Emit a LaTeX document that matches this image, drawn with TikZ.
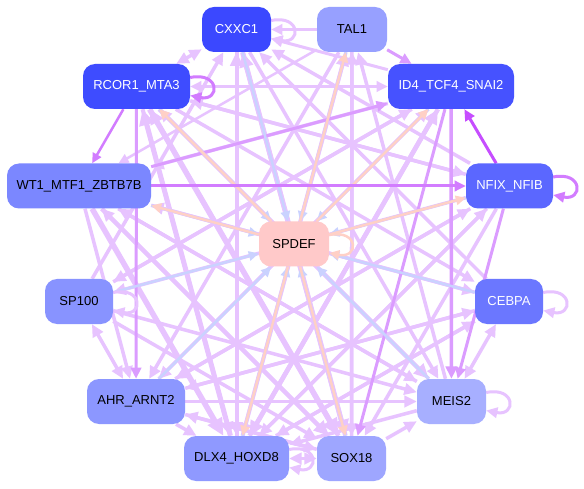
\documentclass[tikz,border=0pt]{standalone}
\usepackage{fontspec}
\setmainfont{Liberation Sans}
\usetikzlibrary{arrows.meta}
\pgfdeclarelayer{bg}
\pgfdeclarelayer{edges}
\pgfsetlayers{bg,edges,main}
\definecolor{lp}{HTML}{E7C3FF}
\definecolor{mp}{HTML}{DB9CFF}
\definecolor{dp}{HTML}{D27CFF}
\definecolor{vp}{HTML}{C64DFF}
\definecolor{bl}{HTML}{CAD2FF}
\definecolor{pc}{HTML}{FFD0C6}
\definecolor{nA}{HTML}{3B48FF}
\definecolor{nB}{HTML}{97A0FF}
\definecolor{nC}{HTML}{4652FF}
\definecolor{nD}{HTML}{3E4CFF}
\definecolor{nE}{HTML}{7B87FF}
\definecolor{nF}{HTML}{5B67FF}
\definecolor{nS}{HTML}{FFC9C9}
\definecolor{nG}{HTML}{8893FF}
\definecolor{nH}{HTML}{6B77FF}
\definecolor{nI}{HTML}{8C97FF}
\definecolor{nJ}{HTML}{A7AFFF}
\definecolor{nK}{HTML}{8F99FF}
\definecolor{nL}{HTML}{9EA6FF}
\tikzset{
  gnode/.style={rounded corners=12pt, minimum height=45pt, inner sep=0pt,
    font=\fontsize{13}{15}\selectfont, text=black},
  wtext/.style={text=white},
  e/.style={-{Triangle[length=4pt 2.4,width=4pt 2.1]}},
  ee/.style={{Triangle[length=4pt 2.4,width=4pt 2.1]}-{Triangle[length=4pt 2.4,width=4pt 2.1]}},
}
\newcommand{\selfloop}[3]{%
  \draw[e, line width=#2pt, draw=#3] ([yshift=9pt]#1.east) .. controls +(30,-6) and +(30,6) .. ([yshift=-9pt]#1.east);}
\begin{document}
\begin{tikzpicture}[x=1pt,y=-1pt]
\begin{pgfonlayer}{bg}
\fill[white] (0,0) rectangle (584,489);
\end{pgfonlayer}
\useasboundingbox (0,0) rectangle (584,489);
\node[gnode, fill=nA, wtext, minimum width=69pt] (cx) at (236.5,29.5) {CXXC1};
\node[gnode, fill=nB, minimum width=70pt] (ta) at (352,29.5) {TAL1};
\node[gnode, fill=nC, wtext, minimum width=126pt] (id) at (451,86.5) {ID4\_TCF4\_SNAI2};
\node[gnode, fill=nD, wtext, minimum width=107pt] (rc) at (136.5,86.5) {RCOR1\_MTA3};
\node[gnode, fill=nE, minimum width=144pt] (wt) at (79,186) {WT1\_MTF1\_ZBTB7B};
\node[gnode, fill=nF, wtext, minimum width=87pt] (nf) at (509.5,186) {NFIX\_NFIB};
\node[gnode, fill=nS, minimum width=70pt] (pd) at (294,244) {SPDEF};
\node[gnode, fill=nG, minimum width=68pt] (sp) at (79,301.5) {SP100};
\node[gnode, fill=nH, wtext, minimum width=68pt] (ce) at (509,301.5) {CEBPA};
\node[gnode, fill=nI, minimum width=98pt] (ah) at (136,401.5) {AHR\_ARNT2};
\node[gnode, fill=nJ, minimum width=69pt] (me) at (451.5,401.5) {MEIS2};
\node[gnode, fill=nK, minimum width=105pt] (dl) at (236.5,458.5) {DLX4\_HOXD8};
\node[gnode, fill=nL, minimum width=69pt] (so) at (351.5,458.5) {SOX18};
\begin{pgfonlayer}{edges}
\foreach \a/\b/\w/\c/\s in {
  ta/cx/3/lp/e, id/cx/3/lp/e, rc/cx/3.5/lp/ee, rc/id/3/lp/ee,
  sp/ah/3.5/lp/ee, ce/me/3.5/lp/ee, so/me/3.5/lp/e, ah/dl/3.5/lp/e, dl/so/3.5/lp/ee,
  wt/ah/3.5/lp/e, cx/dl/4/lp/e, cx/so/5/lp/e, cx/me/3.5/lp/e,
  ta/dl/3.5/lp/e, ta/ah/3.5/lp/e, ta/so/3.5/lp/e, ta/wt/2.5/lp/e,
  id/dl/4.5/lp/e, id/ah/3.5/lp/e, id/sp/3.5/lp/e, id/wt/3.5/lp/e,
  rc/so/5.5/lp/e, rc/me/4.5/lp/e, rc/dl/4/lp/e, rc/ce/3.5/lp/e, rc/nf/3.5/lp/e,
  wt/dl/5.5/lp/e, wt/so/4.5/lp/e, wt/me/3.5/lp/e, wt/ce/3.5/lp/e,
  nf/dl/3.5/lp/e, nf/so/3.5/lp/e, nf/ah/3.5/lp/e, nf/sp/3.5/lp/e, nf/cx/3.5/lp/e, nf/rc/3.5/lp/e,
  sp/so/3.5/lp/e, sp/me/3.5/lp/e, sp/id/3.5/lp/e, sp/cx/3.5/lp/e,
  ce/dl/3.5/lp/e, ce/ah/3.5/lp/e, ce/wt/3.5/lp/e, ce/cx/3.5/lp/e,
  ah/me/3.5/lp/e, ah/so/3.5/lp/e, ah/id/3.5/lp/e, ah/nf/3.5/lp/e, ah/ce/3.5/lp/e,
  me/dl/3.5/lp/e, me/wt/3.5/lp/e, me/rc/3.5/lp/e, me/ta/3.5/lp/e,
  dl/ta/4/lp/e, dl/cx/4/lp/e, dl/id/4.5/lp/e, dl/nf/3.5/lp/e, dl/ce/3.5/lp/e, dl/rc/5/lp/e,
  so/ta/3.5/lp/e, so/cx/4.5/lp/e, so/rc/4.5/lp/e, so/wt/3.5/lp/e, so/ah/3.5/lp/e}{
  \draw[\s, line width=\w pt, draw=\c] (\a) -- (\b);
}
\foreach \a/\b/\w/\c in {
  ta/id/3/mp, rc/ah/3/mp, id/so/3/mp, id/me/3.5/mp, wt/id/3/mp, nf/me/3/mp}{
  \draw[e, line width=\w pt, draw=\c] (\a) -- (\b);
}
\foreach \a in {cx,ta,id,rc,wt,nf,sp,ce,ah,me,dl,so}{
  \draw[e, line width=2.5pt, draw=bl] (\a) -- (pd);
}
\foreach \b in {ta,rc,id,nf,dl,so,wt}{
  \draw[e, line width=2.5pt, draw=pc] (pd) -- (\b);
}
\draw[e, line width=2.5pt, draw=dp] (rc) -- (wt);
\draw[e, line width=3pt, draw=vp] (nf) -- (id);
\draw[e, line width=3pt, draw=dp] (wt) -- (nf);
% self loops
\selfloop{cx}{3}{lp}
\selfloop{rc}{3}{dp}
\selfloop{nf}{3}{dp}
\selfloop{pd}{2.5}{pc}
\selfloop{sp}{3}{lp}
\selfloop{ce}{3}{lp}
\selfloop{me}{3}{lp}
\selfloop{dl}{3}{lp}
\end{pgfonlayer}
\end{tikzpicture}
\end{document}
